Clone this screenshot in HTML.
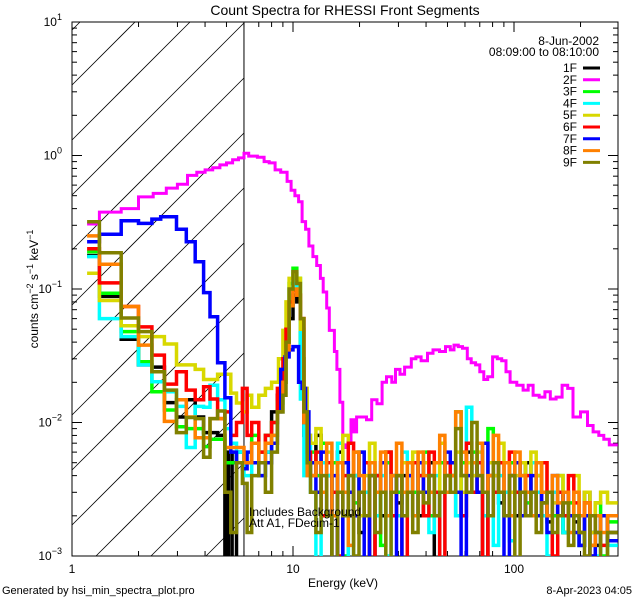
<!DOCTYPE html>
<html><head><meta charset="utf-8"><style>
html,body{margin:0;padding:0;background:#fff;width:640px;height:600px;overflow:hidden;}
svg{display:block;font-family:"Liberation Sans",sans-serif;}
</style></head><body>
<svg id="chart" width="640" height="600" viewBox="0 0 640 600" xmlns="http://www.w3.org/2000/svg">
<rect x="0" y="0" width="640" height="600" fill="#fff"/>
<text x="345" y="15" font-size="14" text-anchor="middle">Count Spectra for RHESSI Front Segments</text>
<g id="hatch"></g>
<g id="axes"></g>
<g id="series"></g>
<text x="343" y="587" font-size="12" text-anchor="middle">Energy (keV)</text>
<text transform="translate(38,289) rotate(-90)" font-size="12" text-anchor="middle">counts cm<tspan dy="-5" font-size="9">−2</tspan><tspan dy="5"> s</tspan><tspan dy="-5" font-size="9">−1</tspan><tspan dy="5"> keV</tspan><tspan dy="-5" font-size="9">−1</tspan></text>
<text x="2" y="594" font-size="11">Generated by hsi_min_spectra_plot.pro</text>
<text x="632" y="594" font-size="11" text-anchor="end">8-Apr-2023 04:05</text>
<text x="249" y="516" font-size="12">Includes Background</text>
<text x="249" y="527" font-size="12">Att A1, FDecim-1</text>
<text x="599" y="45" font-size="12" text-anchor="end">8-Jun-2002</text>
<text x="599" y="56" font-size="12" text-anchor="end">08:09:00 to 08:10:00</text>
<g id="legend"></g>
</svg>
<script>
const NS = "http://www.w3.org/2000/svg";
const PL = 72, PR = 618, PT = 22, PB = 556;
const XDEC = 221, YDEC = 133.5;
function xs(e){ return PL + XDEC * Math.log10(e); }
function ys(v){ return 155.5 - YDEC * Math.log10(v); }

const seriesNames = ["1F","2F","3F","4F","5F","6F","7F","8F","9F"];
const seriesColors = ["#000000","#ff00ff","#00ff00","#00ffff","#d8d800","#ff0000","#0000ff","#ff8000","#808000"];
const xTickLabels = ["1","10","100"];
const yTickExps = ["1","0","−1","−2","−3"];
const xMax = 295;

// low-energy step data: [bin start energy (keV), counts]
const low1F = [[1.17,.178],[1.33,.088],[1.67,.042],[2.0,.027],[2.3,.026],[2.62,.0141],[2.97,.011],[3.29,.0148],[3.61,.011],[3.94,.0084],[4.21,.0084],[4.56,.008],[4.92,.0005],[5.1,.006],[5.3,.0005],[5.55,.006],[6.0,.005],[6.5,.007],[7.0,.005],[7.5,.006],[8.0,.012],[8.5,.016],[9.0,.02],[9.3,.04],[9.6,.06],[10.0,.09],[10.4,.08],[10.8,.03],[11.2,.008],[11.6,.005]];
const low2F = [[1.17,.307],[1.33,.377],[1.67,.40],[2.0,.49],[2.33,.52],[2.67,.57],[3.0,.61],[3.33,.71],[3.67,.75],[4.0,.78],[4.33,.81],[4.67,.85],[5.0,.88],[5.33,.93],[5.67,.96],[6.0,1.04],[6.3,0.99],[6.9,0.97],[7.4,0.90],[7.8,0.88],[8.3,0.78],[8.8,0.75],[9.4,0.64],[9.8,0.55],[10.2,0.50],[10.6,0.45],[11.0,0.32],[11.4,0.28],[11.8,0.21],[12.3,0.175],[12.8,0.15],[13.3,0.12],[13.7,0.095],[14.2,0.072],[14.6,0.049],[15.4,0.034],[15.8,0.025],[16.3,0.0142],[16.8,0.0068],[17.3,0.0065],[17.8,0.0072],[18.3,0.0105],[18.8,0.0085],[19.4,0.011],[20.6,0.011],[21.5,0.0105],[22.7,0.0148],[24,0.0138],[25.3,0.020],[26.5,0.022],[28,0.020],[29.1,0.025],[30.5,0.023],[32,0.026],[34.3,0.030],[36,0.031],[38,0.029],[40.6,0.033],[43,0.035],[46,0.034],[49,0.037],[51.5,0.035],[53.5,0.038],[56,0.037],[58.5,0.036],[61.5,0.030],[64,0.028],[67,0.027],[70,0.024],[73,0.021],[76,0.022],[80,0.031],[84,0.030],[88,0.029],[92,0.024],[96,0.020],[103,0.019],[110,0.0175],[116,0.019],[122,0.016],[130,0.0155],[138,0.017],[146,0.015],[155,0.0155],[165,0.019],[175,0.018],[185,0.011],[200,0.012],[215,0.0095],[228,0.0085],[242,0.008],[255,0.0075],[270,0.0068]];
const low3F = [[1.17,.19],[1.33,.093],[1.67,.048],[2.0,.0285],[2.3,.017],[2.62,.0124],[2.97,.0093],[3.29,.009],[3.61,.009],[3.94,.0066],[4.21,.0075],[4.56,.0075],[4.92,.005],[5.55,.006],[6.0,.005],[6.5,.008],[7.0,.006],[7.5,.008],[8.0,.01],[8.5,.014],[9.0,.025],[9.3,.05],[9.6,.11],[10.0,.143],[10.4,.12],[10.8,.03],[11.2,.012],[11.6,.006]];
const low4F = [[1.17,.175],[1.33,.06],[1.67,.044],[2.0,.027],[2.3,.0202],[2.62,.017],[2.97,.0132],[3.29,.0065],[3.61,.0132],[3.94,.013],[4.21,.019],[4.56,.0148],[4.92,.009],[5.23,.007],[5.55,.006],[6.0,.004],[6.5,.005],[7.0,.004],[7.5,.006],[8.0,.008],[8.5,.012],[9.0,.02],[9.3,.045],[9.6,.08],[10.0,.11],[10.4,.09],[10.8,.015],[11.2,.004],[11.6,.008]];
const low5F = [[1.17,.131],[1.33,.082],[1.67,.053],[2.0,.044],[2.3,.044],[2.62,.0387],[2.97,.027],[3.29,.027],[3.61,.025],[3.94,.021],[4.21,.021],[4.56,.023],[4.92,.023],[5.23,.0166],[5.55,.014],[5.9,.012],[6.2,.016],[6.5,.013],[7.0,.016],[7.5,.018],[8.0,.02],[8.6,.03],[9.0,.049],[9.3,.08],[9.6,.12],[10.0,.13],[10.4,.12],[10.8,.05],[11.2,.018],[11.6,.008]];
const low6F = [[1.17,.2],[1.33,.111],[1.67,.074],[2.0,.052],[2.3,.032],[2.62,.0194],[2.97,.024],[3.29,.0175],[3.61,.0148],[3.94,.0185],[4.21,.015],[4.56,.0107],[4.92,.012],[5.23,.008],[5.55,.01],[5.9,.018],[6.2,.008],[6.5,.01],[7.0,.006],[7.5,.008],[8.0,.01],[8.5,.018],[9.0,.03],[9.3,.05],[9.6,.08],[10.0,.098],[10.4,.09],[10.8,.06],[11.2,.01],[11.6,.006]];
const low7F = [[1.17,.226],[1.33,.257],[1.67,.325],[2.0,.31],[2.3,.334],[2.52,.348],[2.97,.28],[3.29,.226],[3.61,.16],[3.94,.094],[4.21,.062],[4.56,.028],[4.92,.0153],[5.23,.006],[5.55,.005],[5.9,.0045],[6.2,.006],[6.5,.005],[7.0,.004],[7.5,.005],[8.0,.007],[8.5,.012],[8.8,.025],[9.2,.031],[9.6,.035],[10.0,.037],[10.6,.02],[11.0,.018],[11.4,.012],[11.8,.005]];
const low8F = [[1.17,.25],[1.33,.153],[1.67,.074],[2.0,.038],[2.3,.024],[2.62,.0102],[2.97,.0148],[3.29,.011],[3.61,.0077],[3.94,.0077],[4.21,.0107],[4.56,.0107],[4.92,.0065],[5.55,.0065],[6.0,.005],[6.5,.007],[7.0,.005],[7.5,.007],[8.0,.008],[8.5,.012],[9.0,.02],[9.3,.035],[9.6,.075],[10.0,.1],[10.4,.09],[10.8,.06],[11.2,.01],[11.6,.004]];
const low9F = [[1.17,.319],[1.33,.187],[1.67,.0606],[2.0,.048],[2.3,.024],[2.62,.0175],[2.97,.0084],[3.29,.0109],[3.61,.0107],[3.94,.0055],[4.21,.0107],[4.56,.0122],[4.92,.003],[5.23,.0015],[5.55,.005],[5.9,.0035],[6.2,.0015],[6.5,.004],[7.0,.005],[7.5,.003],[8.0,.006],[8.5,.012],[9.0,.016],[9.3,.04],[9.6,.1],[10.0,.135],[10.4,.11],[10.8,.06],[11.2,.012],[11.6,.005]];

// high-energy bin edges (keV) and values (units of 1e-3 counts)
const hiEdges = [12,12.7,13.4,14.2,15,15.9,16.8,17.8,18.8,19.9,21,22.2,23.5,24.9,26.3,27.8,29.4,31.1,32.9,34.8,36.8,38.9,41.2,43.6,46.1,48.7,51.5,54.5,57.6,60.9,64.4,68.1,72,76.2,80.6,85.2,90.1,95.3,100.8,106.6,112.7,119.2,126,133.3,141,149,157.6,166.7,176.3,186.4,197.1,208.5,220.5,233.2,246.6,265,295];
const hi1F = [5,8,3,4,0.8,6,3,2,4,1.5,3,0.5,4,2,6,3,2.5,4,3,5,2,3,5,0.6,3,4,3,2,4,6,5,3,0.9,4,3,2.5,3,4,2,3,5,2,3,2.5,1.8,2,3,1.5,2,1.8,1.2,3,1.5,1.2,2,1.5];
const hi3F = [6,4,7,2,5,3,1,4,2.5,6,2,4,3,1.2,5,4,3,2,5,3,4,6,2,3,5,3,4,12,5,3,6,4,3,9,4,3,2,5,3,4,2.5,3,4,2,3,2,4,1.5,2.5,2,1.5,2,1.2,2.5,1,1.8];
const hi4F = [3,0.6,5,4,2,7,3,0.5,4,2,3,5,2,4,1,3,2,6,4,2,3,5,1.5,4,0.7,3,4,2,6,13,4,3,2,5,1.2,4,3,1.3,5,3,2,5,3,2,1,3,2,1.5,2,3,1.2,2,1.5,1,2,1.2];
const hi5F = [7,9,4,6,3,5,8,4,6,2,4,7,3,5,6,2,4,5,3,6,3,5,4,2,7,4,5,6,3,5,4,6,3,5,4,7,5,3,4,5,3,6,4,5,3,2.5,4,3,2,4,2,3,1.5,2.5,3,2.5];
const hi6F = [4,6,2,5,3,1,4,7,2,3,5,0.8,4,3,6,2,4,0.5,3,5,4,2,6,3,0.6,5,4,3,2,7,3,5,0.6,4,3,5,2,6,3,2,4,3,2,5,3,1,3,2,4,2.5,1.5,2.5,1,2,1.2,2];
const hi7F = [5,3,6,2,4,0.7,5,3,2,6,0.8,4,3,5,2,4,0.6,3,4,2,5,3,4,2,3,6,5,3,0.9,4,5,3,7,2,5,3,0.9,4,5,2,3,4,2,3,1.5,4,2,3,2,1.5,1.2,2,1,1.5,2,1.3];
const hi8F = [4,5,3,7,2,5,3,1.2,6,4,2,5,3,6,2,4,7,3,5,2,6,4,3,5,8,3,4,12,6,3,5,7,3,4,8,3,5,2,6,4,3,2,5,3,2,4,2.5,3,1.5,3,2,2.5,1.2,2,1.5,2];
const hi9F = [3,1.5,4,2,0.7,3,2,4,1,3,2,4,1.5,3,0.8,3,4,2,3,1.5,3,2.5,4,2,3,4,3,9,4,3,10,4,3,2,5,3,2,4,0.7,3,2,3,1.5,2.5,3,1.5,2,2.5,1.2,2,1.5,1,2,1.5,0.9,1.5];

const lowData = [low1F,low2F,low3F,low4F,low5F,low6F,low7F,low8F,low9F];
const hiData = [hi1F,null,hi3F,hi4F,hi5F,hi6F,hi7F,hi8F,hi9F];

function mk(tag, attrs, parent){
  const el = document.createElementNS(NS, tag);
  for (const k in attrs) el.setAttribute(k, attrs[k]);
  parent.appendChild(el);
  return el;
}
const svg = document.getElementById("chart");
const defs = mk("defs", {}, svg);
const cp = mk("clipPath", {id:"plotclip"}, defs);
mk("rect", {x:PL, y:PT, width:PR-PL, height:PB-PT}, cp);

// hatch: 45-degree lines inside [PL, x(6)] x [PT, PB], computed within bounds
const hatch = document.getElementById("hatch");
const HX = xs(6);
for (let c = 30; c < PB + (HX - PL); c += 55) {
  // line: y = c - (x - PL)
  let xa = PL, ya = c;
  if (ya > PB) { xa = PL + (c - PB); ya = PB; }
  let xb = PL + (c - PT), yb = PT;
  if (xb > HX) { xb = HX; yb = c - (HX - PL); }
  if (xa >= HX || ya < PT) continue;
  const ln = mk("line", {x1:xa, y1:ya, x2:xb, y2:yb, stroke:"#000", "stroke-width":"0.8"}, hatch);
  
  
}
const vl = mk("line", {x1:HX, y1:PT, x2:HX, y2:PB, stroke:"#000", "stroke-width":"1"}, hatch);



// axes
const axes = document.getElementById("axes");
const frame = mk("rect", {x:PL, y:PT, width:PR-PL, height:PB-PT, fill:"none", stroke:"#000", "stroke-width":"1"}, axes);


for (let d = 0; d < 3; d++) {
  for (let m = 1; m <= 9; m++) {
    const e = m * Math.pow(10, d);
    if (e > xMax) break;
    const x = xs(e), L = m === 1 ? 10 : 5;
    const t1 = mk("line", {x1:x, y1:PB, x2:x, y2:PB-L, stroke:"#000"}, axes);
    
    
    const t2 = mk("line", {x1:x, y1:PT, x2:x, y2:PT+L, stroke:"#000"}, axes);
    
    
  }
  const lb = mk("text", {x:xs(Math.pow(10,d)), y:PB+17, "font-size":"12", "text-anchor":"middle"}, axes);
  lb.textContent = xTickLabels[d];
  
  
}
for (let p = -3; p <= 1; p++) {
  for (let m = 1; m <= 9; m++) {
    if (p === 1 && m > 1) break;
    const y = ys(m * Math.pow(10, p)), L = m === 1 ? 10 : 5;
    const t1 = mk("line", {x1:PL, y1:y, x2:PL+L, y2:y, stroke:"#000"}, axes);
    
    
    const t2 = mk("line", {x1:PR, y1:y, x2:PR-L, y2:y, stroke:"#000"}, axes);
    
    
  }
  const lb = mk("text", {x:PL-10, y:ys(Math.pow(10,p))+4, "font-size":"12", "text-anchor":"end"}, axes);
  
  
  const b = mk("tspan", {}, lb); b.textContent = "10";
  const s = mk("tspan", {dy:"-6", "font-size":"9"}, lb); s.textContent = yTickExps[1 - p];
}

// series
const sg = document.getElementById("series");
sg.setAttribute("clip-path","url(#plotclip)");
function yc(v){ return v > 0 ? Math.min(ys(v), PB + 2) : PB + 2; }
for (let i = 0; i < 9; i++) {
  const steps = lowData[i].map(p => [p[0], p[1]]);
  let endE;
  const hi = hiData[i];
  if (hi) {
    for (let k = 0; k < hi.length && k < hiEdges.length - 1; k++) steps.push([hiEdges[k], hi[k] * 1e-3]);
    endE = hiEdges[Math.min(hi.length, hiEdges.length - 1)];
  } else endE = xMax;
  let d = "";
  for (let k = 0; k < steps.length; k++) {
    const x0 = xs(steps[k][0]);
    const x1 = Math.min(PR, k + 1 < steps.length ? xs(steps[k+1][0]) : xs(endE));
    const y = yc(steps[k][1]);
    d += (k === 0 ? "M" : "L") + x0.toFixed(1) + "," + y.toFixed(1) + "L" + x1.toFixed(1) + "," + y.toFixed(1);
  }
  const path = mk("path", {d:d, fill:"none", stroke:seriesColors[i], "stroke-width": i === 1 ? "3" : "3.5", "stroke-linejoin":"miter"}, sg);
  
  
}

// legend
const lg = document.getElementById("legend");
for (let i = 0; i < 9; i++) {
  const y = 68 + i * 11.8;
  const t = mk("text", {x:577, y:y+4, "font-size":"12", "text-anchor":"end"}, lg);
  t.textContent = seriesNames[i];
  
  
  const l = mk("line", {x1:583, y1:y, x2:600, y2:y, stroke:seriesColors[i], "stroke-width":"3"}, lg);
  
  
}
</script>
</body></html>
